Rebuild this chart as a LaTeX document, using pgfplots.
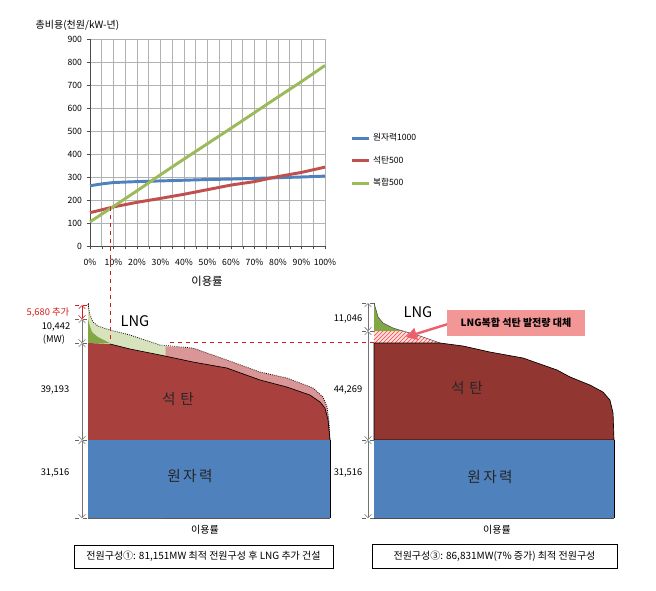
\documentclass[border=0pt]{standalone}
\usepackage{fontspec}
\setmainfont{Noto Sans CJK KR}
\usepackage{pgfplots}
\pgfplotsset{compat=1.18}
\usetikzlibrary{patterns,arrows.meta}

\definecolor{nucblue}{RGB}{79,129,189}
\definecolor{coalred}{RGB}{192,80,77}
\definecolor{ccgreen}{RGB}{155,187,89}
\definecolor{leftred}{RGB}{168,64,62}
\definecolor{rightred}{RGB}{146,54,50}
\definecolor{pinkred}{RGB}{218,150,150}
\definecolor{lightgreen}{RGB}{214,227,188}
\definecolor{darkgreen}{RGB}{130,168,70}
\definecolor{callout}{RGB}{242,150,150}
\definecolor{calloutarrow}{RGB}{236,96,108}
\definecolor{dashred}{RGB}{215,25,25}

\newcommand{\fs}[1]{\fontsize{#1}{#1}\selectfont}
\tikzset{px/.style={x=0.75pt,y=-0.75pt}}

\begin{document}
\begin{tikzpicture}
\path[use as bounding box,px] (0,0) rectangle (656,590);

% ---------- top: total cost vs utilisation ----------
\begin{axis}[
    at={(67.5pt,-184.5pt)}, anchor=south west,
    scale only axis, width=176.25pt, height=155.25pt,
    xmin=0, xmax=100, ymin=0, ymax=900,
    xtick={0,10,...,100}, minor xtick={5,15,...,95},
    ytick={0,100,...,900},
    grid=both,
    major grid style={gray!60, line width=0.5pt},
    minor grid style={gray!60, line width=0.5pt},
    axis x line*=bottom, axis y line*=left,
    axis line style={-, black!70},
    tick align=outside, major tick length=2.5pt, minor tick length=2.5pt,
    tick style={black!70},
    xticklabel={\pgfmathprintnumber{\tick}\%},
    ticklabel style={font=\fs{6.5}},
    x tick label style={yshift=-4pt},
    /pgf/number format/assume math mode=true,
    legend style={at={(1.09,0.57)}, anchor=north west, draw=none, fill=none,
        font=\fs{6.5}, row sep=6pt, legend cell align=left},
    legend image code/.code={\draw[#1] (0cm,0cm) -- (0.45cm,0cm);},
    clip=false,
]
\addplot[nucblue, line width=2.2pt] coordinates {
    (0,262) (5,270) (10,276) (20,280) (30,283) (40,286) (50,289)
    (60,291) (70,294) (80,297) (90,300) (100,304)};
\addlegendentry{원자력1000}
\addplot[coalred, line width=2.2pt] coordinates {
    (0,145) (10,170) (20,190) (30,207) (40,225) (50,245)
    (60,265) (70,280) (80,302) (90,320) (100,343)};
\addlegendentry{석탄500}
\addplot[ccgreen, line width=2.2pt] coordinates {
    (0,105) (10,172) (20,240) (30,310) (40,378) (50,445)
    (60,512) (70,580) (80,648) (90,715) (100,785)};
\addlegendentry{복합500}
\end{axis}

% ---------- bottom left: 81,151 MW + LNG ----------
\begin{axis}[
    at={(66pt,-388.5pt)}, anchor=south west,
    scale only axis, width=181.5pt, height=161.5pt,
    xmin=0, xmax=100, ymin=0, ymax=87000,
    axis x line=bottom, axis y line=left,
    axis line style={-, black!70, line width=0.5pt},
    xtick=\empty, ytick=\empty, clip=false,
]
% area under the upper duration curve: light green (LNG) then pink
\addplot[fill=lightgreen, draw=none] coordinates {
    (0,0) (0,86450) (0.8,82010) (2.1,79180) (4.1,77570) (9.1,75950)
    (17.4,73930) (29.8,69890) (32,69400) (32,0)} -- cycle;
\addplot[fill=pinkred, draw=none] coordinates {
    (32,0) (32,69400) (43.4,68680) (57.4,63830) (71.1,58980) (82.2,56560)
    (93.0,52520) (97.1,48880) (98.8,44840) (99.5,39590) (100,31516) (100,0)} -- cycle;
% dark green (LNG, original)
\addplot[fill=darkgreen, draw=none] coordinates {
    (0,70709) (0,80400) (0.8,77500) (1.65,75150) (4.1,73120) (9.1,70709)} -- cycle;
% coal
\addplot[fill=leftred, draw=none] coordinates {
    (0,31516) (0,70709) (9.1,70300) (17.4,68280) (29.8,65850) (43.4,63020)
    (57.4,60600) (71.1,55750) (82.2,52920) (91.7,49690) (95.9,46860)
    (97.9,44440) (99.2,39590) (100,31516)} -- cycle;
\addplot[black, line width=0.5pt] coordinates {
    (9.1,70300) (17.4,68280) (29.8,65850) (43.4,63020)
    (57.4,60600) (71.1,55750) (82.2,52920) (91.7,49690) (95.9,46860)
    (97.9,44440) (99.2,39590) (100,31516)};
% upper curve (dotted)
\addplot[black, densely dotted, line width=0.6pt] coordinates {
    (0,86450) (0.8,82010) (2.1,79180) (4.1,77570) (9.1,75950)
    (17.4,73930) (29.8,69890) (43.4,68680) (57.4,63830) (71.1,58980) (82.2,56560)
    (93.0,52520) (97.1,48880) (98.8,44840) (99.5,39590) (100,31516)};
% nuclear
\addplot[fill=nucblue, draw=none] coordinates {
    (0,0) (0,31516) (100,31516) (100,0)} -- cycle;
\addplot[black, line width=0.5pt] coordinates {(100,0) (100,31516)};
\end{axis}

% ---------- bottom right: 86,831 MW optimum ----------
\begin{axis}[
    at={(280.5pt,-388.5pt)}, anchor=south west,
    scale only axis, width=180pt, height=161.5pt,
    xmin=0, xmax=100, ymin=0, ymax=87000,
    axis x line=bottom, axis y line=left,
    axis line style={-, black!70, line width=0.5pt},
    xtick=\empty, ytick=\empty, clip=false,
]
% hatched part: LNG replaces coal generation
\addplot[fill=red!12, draw=none] coordinates {
    (0,70709) (0,75548) (12.1,75548) (19.2,73530) (27.5,70709)} -- cycle;
\addplot[pattern=north east lines, pattern color=red!75, draw=none] coordinates {
    (0,70709) (0,75548) (12.1,75548) (19.2,73530) (27.5,70709)} -- cycle;
\addplot[fill=darkgreen, draw=none] coordinates {
    (0,75548) (0,86860) (1.7,81200) (3.75,78780) (7.9,76760) (12.1,75548)} -- cycle;
\addplot[black!70, line width=0.4pt] coordinates {
    (0,86860) (1.7,81200) (3.75,78780) (7.9,76760) (12.1,75548)
    (19.2,73530) (27.5,70709)};
% coal
\addplot[fill=rightred, draw=black, line width=0.5pt] coordinates {
    (0,31516) (0,70709) (27.5,70709) (37.1,69490) (48.3,67060) (62.1,64640)
    (76.3,59790) (81.7,56960) (90.0,53730) (95.4,50900) (98.3,47670)
    (99.6,42420) (100,31516)} -- cycle;
% nuclear
\addplot[fill=nucblue, draw=none] coordinates {
    (0,0) (0,31516) (100,31516) (100,0)} -- cycle;
\addplot[black, line width=0.5pt] coordinates {(100,0) (100,31516)};
\end{axis}

\begin{scope}[px]
\node[anchor=west, font=\fs{7.5}] at (31,25) {총비용(천원/kW-년)};
\node[font=\fs{8.5}] at (207,281) {이용률};

% red guide lines
\draw[dashred, dashed, line width=0.7pt] (110,207) -- (110,342);
\draw[dashred, dashed, line width=0.7pt] (170,342) -- (374,342);

% dimension marks, left
\foreach \yy in {319,343,440,518}
    \draw[black!60, dashed, line width=0.4pt] (75,\yy) -- (88,\yy);
\draw[dashred, dashed, line width=0.4pt] (75,305) -- (88,305);
\draw[dashred, {Straight Barb[length=2.5pt]}-{Straight Barb[length=2.5pt]}, line width=0.4pt] (82,305) -- (82,319);
\draw[black!55, {Straight Barb[length=2.5pt]}-{Straight Barb[length=2.5pt]}, line width=0.4pt] (82,319) -- (82,343);
\draw[black!55, {Straight Barb[length=2.5pt]}-{Straight Barb[length=2.5pt]}, line width=0.4pt] (82,343) -- (82,440);
\draw[black!55, {Straight Barb[length=2.5pt]}-{Straight Barb[length=2.5pt]}, line width=0.4pt] (82,440) -- (82,518);
\node[dashred, font=\fs{7}] at (48,313) {5,680 추가};
\node[font=\fs{7}] at (56,327) {10,442};
\node[font=\fs{7}] at (54,340) {(MW)};
\node[font=\fs{7}] at (55,390) {39,193};
\node[font=\fs{7}] at (55,473) {31,516};

% dimension marks, right
\foreach \yy in {303,331,440,518}
    \draw[black!60, dashed, line width=0.4pt] (362,\yy) -- (374,\yy);
\draw[black!55, {Straight Barb[length=2.5pt]}-{Straight Barb[length=2.5pt]}, line width=0.4pt] (368,303) -- (368,331);
\draw[black!55, {Straight Barb[length=2.5pt]}-{Straight Barb[length=2.5pt]}, line width=0.4pt] (368,331) -- (368,440);
\draw[black!55, {Straight Barb[length=2.5pt]}-{Straight Barb[length=2.5pt]}, line width=0.4pt] (368,440) -- (368,518);
\node[font=\fs{7}] at (348,319) {11,046};
\node[font=\fs{7}] at (348,390) {44,269};
\node[font=\fs{7}] at (348,473) {31,516};

% labels inside the panels
\node[font=\fs{11}] at (135,321) {LNG};
\node[font=\fs{11}] at (418,312) {LNG};
\node[font=\fs{11}, black!85] at (178,399) {석\,\,탄};
\node[font=\fs{11}, black!85] at (467,388) {석\,\,탄};
\node[font=\fs{11}, black!85] at (190,476) {원\,자\,력};
\node[font=\fs{11}, black!85] at (490,477) {원\,자\,력};

% callout
\draw[calloutarrow, line width=1.8pt, -{Triangle[length=8pt,width=9pt]}] (448,324) -- (406,337);
\node[fill=callout, minimum width=103.5pt, minimum height=20pt, inner sep=0pt,
      font=\bfseries\fs{7.5}] at (516,323) {LNG복합 석탄 발전량 대체};

% x labels and captions
\node[font=\fs{7.5}] at (205,530) {이용률};
\node[font=\fs{7.5}] at (497,530) {이용률};
\node[draw=black, line width=0.5pt, minimum width=194.25pt, minimum height=17.25pt,
      inner sep=0pt, font=\fs{7.5}] at (203.5,556.5) {전원구성①: 81,151MW 최적 전원구성 후 LNG 추가 건설};
\node[draw=black, line width=0.5pt, minimum width=183.75pt, minimum height=18pt,
      inner sep=0pt, font=\fs{7.5}] at (494.5,556) {전원구성③: 86,831MW(7\% 증가) 최적 전원구성};
\end{scope}
\end{tikzpicture}
\end{document}
